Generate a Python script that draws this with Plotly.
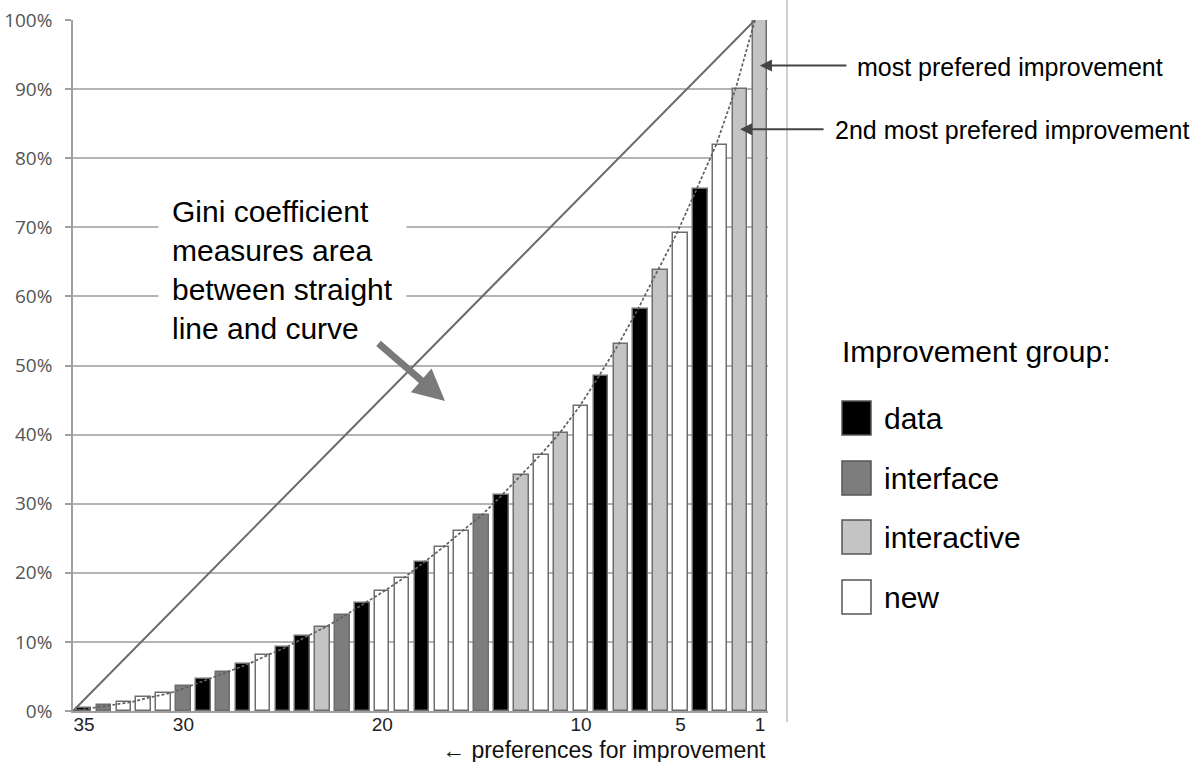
import plotly.graph_objects as go

# ---------------- data ----------------
ranks = list(range(1, 36))                      # preference rank (1 = most preferred)
cum_share = [100.0, 90.0, 81.9, 75.5, 69.2, 63.8, 58.2, 53.1, 48.5, 44.1,
             40.3, 37.1, 34.2, 31.2, 28.4, 26.1, 23.7, 21.5, 19.3, 17.4,
             15.6, 13.9, 12.2, 10.8, 9.3, 8.1, 6.8, 5.7, 4.7, 3.6,
             2.6, 2.0, 1.3, 0.8, 0.4]           # cumulative share (%) per rank
groups = ["interactive", "interactive", "new", "data", "new",
          "interactive", "data", "interactive", "data", "new",
          "interactive", "new", "interactive", "data", "interface",
          "new", "new", "data", "new", "new",
          "data", "interface", "interactive", "data", "data",
          "new", "data", "interface", "data", "interface",
          "new", "new", "new", "interface", "data"]
group_names = ["data", "interface", "interactive", "new"]
group_colors = {"data": "#000000", "interface": "#7d7d7d",
                "interactive": "#c4c4c4", "new": "#ffffff"}
x_tick_ranks = [35, 30, 20, 10, 5, 1]
y_tick_vals = [0, 10, 20, 30, 40, 50, 60, 70, 80, 90, 100]
y_tick_text = [f"{v}%" for v in y_tick_vals]

# Lorenz curve: items counted from least preferred upwards
items_counted = list(range(0, 36))
lorenz_share = [0.0] + cum_share[::-1]
equality_items = [0, 35]
equality_share = [0.0, 100.0]

# ---------------- geometry helpers ----------------
W, H = 1195, 762
L, R, T, B = 73, 768, 20, 711


def px(xp):
    return (xp - L) / (R - L)


def py(yp):
    return (B - yp) / (B - T)


FONT = "Liberation Sans, Arial, sans-serif"
EDGE = "#6e6e6e"

fig = go.Figure()

for g in group_names:
    xs = [r for r, gg in zip(ranks, groups) if gg == g]
    ys = [v for v, gg in zip(cum_share, groups) if gg == g]
    fig.add_trace(go.Bar(
        x=xs, y=ys, name=g, width=0.73,
        marker=dict(color=group_colors[g], line=dict(color=EDGE, width=1.5)),
        showlegend=False))

fig.add_trace(go.Scatter(
    x=equality_items, y=equality_share, mode="lines", xaxis="x2", yaxis="y",
    line=dict(color="#6a6a6a", width=2), showlegend=False))
fig.add_trace(go.Scatter(
    x=items_counted, y=lorenz_share, mode="lines", xaxis="x2", yaxis="y",
    line=dict(color="#606060", width=1.7, dash="3px,2px"), showlegend=False))

annotations = []
# Gini text box
annotations.append(dict(
    xref="paper", yref="paper", x=px(158), y=py(270), xanchor="left", yanchor="middle",
    text="Gini coefficient<br>measures area<br>between straight<br>line and curve",
    align="left", showarrow=False, bgcolor="white", borderpad=13,
    font=dict(family=FONT, size=30, color="#000000")))
# Gini arrow
annotations.append(dict(
    xref="paper", yref="paper", x=px(445), y=py(401), text="", showarrow=True,
    ax=-68, ay=-59, arrowhead=2, arrowsize=0.9, arrowwidth=7, arrowcolor="#7a7a7a"))
# right-hand callouts
annotations.append(dict(
    xref="paper", yref="paper", x=px(855), y=py(67), xanchor="left", yanchor="middle",
    text="most prefered improvement", showarrow=False,
    font=dict(family=FONT, size=25, color="#000000")))
annotations.append(dict(
    xref="paper", yref="paper", x=px(833), y=py(130), xanchor="left", yanchor="middle",
    text="2nd most prefered improvement", showarrow=False,
    font=dict(family=FONT, size=25, color="#000000")))
annotations.append(dict(
    xref="x", yref="y", x=ranks[0], y=93.4, text="", showarrow=True,
    ax=88, ay=0, arrowhead=2, arrowsize=1.2, arrowwidth=2, arrowcolor="#444444"))
annotations.append(dict(
    xref="x", yref="y", x=ranks[1], y=84.2, text="", showarrow=True,
    ax=85, ay=0, arrowhead=2, arrowsize=1.2, arrowwidth=2, arrowcolor="#444444"))
# x-axis caption
annotations.append(dict(
    xref="paper", yref="paper", x=px(768), y=py(750), xanchor="right", yanchor="middle",
    text="\u2190 preferences for improvement", showarrow=False,
    font=dict(family=FONT, size=23, color="#111111")))
# legend
annotations.append(dict(
    xref="paper", yref="paper", x=px(840), y=py(352), xanchor="left", yanchor="middle",
    text="Improvement group:", showarrow=False,
    font=dict(family=FONT, size=30, color="#000000")))

shapes = []
legend_rows = [418, 478, 537, 597]
for g, yc in zip(group_names, legend_rows):
    shapes.append(dict(type="rect", xref="paper", yref="paper",
                       x0=px(842), x1=px(871), y0=py(yc + 17), y1=py(yc - 17),
                       fillcolor=group_colors[g], line=dict(color="#555555", width=1.5)))
    annotations.append(dict(
        xref="paper", yref="paper", x=px(882), y=py(yc), xanchor="left", yanchor="middle",
        text=g, showarrow=False, font=dict(family=FONT, size=30, color="#000000")))

# right-hand border line
shapes.append(dict(type="line", xref="paper", yref="paper",
                   x0=px(787), x1=px(787), y0=py(722), y1=py(0),
                   line=dict(color="#c0c0c0", width=1.5)))

fig.update_layout(
    width=W, height=H,
    margin=dict(l=L, r=W - R, t=T, b=H - B, pad=0, autoexpand=False),
    paper_bgcolor="white", plot_bgcolor="white",
    barmode="overlay", bargap=0,
    xaxis=dict(range=[35.553, 0.594], tickmode="array", tickvals=x_tick_ranks,
               ticktext=[str(v) for v in x_tick_ranks], showgrid=False, zeroline=False,
               showline=True, linecolor="#a0a0a0", linewidth=1.5, ticks="",
               ticklabelstandoff=-5, automargin=False,
               tickfont=dict(family=FONT, size=19, color="#222222")),
    xaxis2=dict(overlaying="x", range=[0, 35.667], visible=False),
    yaxis=dict(range=[0, 100], tickmode="array", tickvals=y_tick_vals, ticktext=y_tick_text,
               showgrid=True, gridcolor="#b4b4b4", gridwidth=1.5, zeroline=False,
               showline=True, linecolor="#a0a0a0", linewidth=1.5,
               ticks="outside", ticklen=6, tickcolor="#a0a0a0", tickwidth=1.5,
               ticklabelstandoff=9, automargin=False,
               tickfont=dict(family="Open Sans, sans-serif", size=19, color="#555555")),
    annotations=annotations, shapes=shapes,
)

fig.write_html("out.html", config={"displayModeBar": False},
               post_script="document.body.style.margin='0px';")
